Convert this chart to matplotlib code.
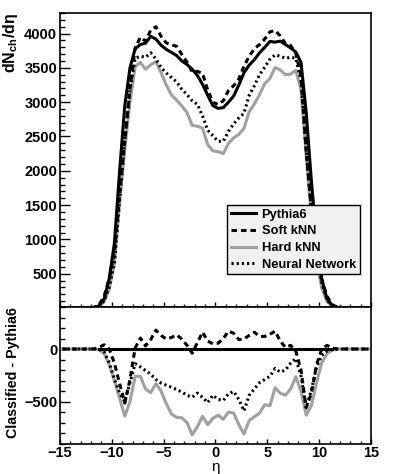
import numpy as np
import matplotlib
matplotlib.use("Agg")
import matplotlib.pyplot as plt
from matplotlib.ticker import MultipleLocator, FixedLocator

plt.rcParams['font.family'] = ['Liberation Sans', 'DejaVu Sans']
plt.rcParams['font.weight'] = 'bold'
plt.rcParams['axes.labelweight'] = 'bold'
plt.rcParams['mathtext.fontset'] = 'custom'
plt.rcParams['mathtext.rm'] = 'Liberation Sans:bold'
plt.rcParams['mathtext.bf'] = 'Liberation Sans:bold'
plt.rcParams['mathtext.default'] = 'bf'

# bin centres (0.5 wide bins from -15 to 15)
eta = [-14.75, -14.25, -13.75, -13.25, -12.75, -12.25, -11.75, -11.25, -10.75, -10.25,
       -9.75, -9.25, -8.75, -8.25, -7.75, -7.25, -6.75, -6.25, -5.75, -5.25,
       -4.75, -4.25, -3.75, -3.25, -2.75, -2.25, -1.75, -1.25, -0.75, -0.25,
       0.25, 0.75, 1.25, 1.75, 2.25, 2.75, 3.25, 3.75, 4.25, 4.75,
       5.25, 5.75, 6.25, 6.75, 7.25, 7.75, 8.25, 8.75, 9.25, 9.75,
       10.25, 10.75, 11.25, 11.75, 12.25, 12.75, 13.25, 13.75, 14.25, 14.75]

# dN/deta from Pythia6
pythia = [0, 0, 0, 0, 0, 2, 8, 30, 130, 430,
          950, 2000, 2950, 3500, 3780, 3840, 3860, 3960, 3920, 3830,
          3770, 3725, 3680, 3600, 3550, 3480, 3390, 3260, 3100, 2950,
          2910, 2920, 3000, 3090, 3250, 3430, 3540, 3620, 3720, 3800,
          3885, 3875, 3890, 3840, 3790, 3730, 3580, 2850, 1850, 1000,
          420, 140, 40, 10, 2, 0, 0, 0, 0, 0]

# classified - Pythia6
diff_soft = [0, 0, 0, 0, 0, 0, 0, 15, 40, 0,
             -135, -330, -515, -290, 10, 105, 30, 90, 180, 130,
             95, 110, 135, 95, 35, -40, 60, 160, 75, 50,
             55, 100, 170, 150, 90, 95, 130, 160, 120, 120,
             140, 170, 75, 15, 35, -20, -200, -560, -420, -150,
             0, 35, 10, 0, 0, 0, 0, 0, 0, 0]
diff_hard = [0, 0, 0, 0, 0, 0, 0, -5, -40, -150,
             -300, -470, -640, -500, -260, -260, -380, -415, -330, -400,
             -520, -620, -650, -655, -700, -818, -740, -640, -720, -660,
             -630, -670, -600, -610, -720, -810, -680, -645, -610, -530,
             -540, -370, -420, -440, -380, -265, -400, -630, -540, -320,
             -130, -45, -12, 0, 0, 0, 0, 0, 0, 0]
diff_nn = [0, 0, 0, 0, 0, 0, 0, -5, -25, -130,
           -290, -420, -500, -320, -140, -170, -205, -240, -290, -325,
           -345, -365, -385, -410, -440, -460, -420, -460, -510, -440,
           -480, -490, -425, -405, -480, -590, -440, -380, -320, -290,
           -260, -185, -220, -200, -135, -90, -260, -560, -390, -170,
           -60, -20, -5, 0, 0, 0, 0, 0, 0, 0]

labels = ['Pythia6', 'Soft kNN', 'Hard kNN', 'Neural Network']

eta = np.array(eta)
pythia = np.array(pythia)
soft = pythia + np.array(diff_soft)
hard = pythia + np.array(diff_hard)
nn = pythia + np.array(diff_nn)

grey = '#a0a0a0'
lw = 2.2
styles = {
    'Pythia6': dict(color='black', lw=lw, ls='-'),
    'Soft kNN': dict(color='black', lw=lw, ls=(0, (1.8, 1.3))),
    'Hard kNN': dict(color=grey, lw=lw, ls='-'),
    'Neural Network': dict(color='black', lw=lw, ls=(0, (0.7, 1.0))),
}

fig = plt.figure(figsize=(3.99, 4.74), dpi=100)
ax1 = fig.add_axes([0.1504, 0.3523, 0.7794, 0.6203])
ax2 = fig.add_axes([0.1504, 0.0643, 0.7794, 0.2880])

# upper panel
lines = {}
for name, y in [('Hard kNN', hard), ('Pythia6', pythia), ('Soft kNN', soft), ('Neural Network', nn)]:
    lines[name], = ax1.plot(eta, y, **styles[name])
ax1.set_xlim(-15, 15)
ax1.set_ylim(15, 4300)
ax1.set_ylabel('dN$_{ch}$/dη', fontsize=11.5, fontweight='bold', loc='top', labelpad=3)

leg = ax1.legend([lines[n] for n in labels], labels, loc='upper left',
                 bbox_to_anchor=(0.536, 0.347), fancybox=False, framealpha=1,
                 facecolor='#f0f0f0', edgecolor='black',
                 prop={'size': 9.3, 'weight': 'bold'},
                 handlelength=2.0, handletextpad=0.4, borderpad=0.3,
                 labelspacing=0.35, borderaxespad=0)
leg.get_frame().set_linewidth(1.0)
leg.set_zorder(5)

# lower panel
zero_mask = pythia >= 20
ax2.plot(eta, diff_hard, **styles['Hard kNN'])
ax2.plot(eta[zero_mask], np.zeros(zero_mask.sum()), **styles['Pythia6'])
ax2.plot(eta, diff_soft, **styles['Soft kNN'])
ax2.plot(eta, diff_nn, **styles['Neural Network'])
ax2.set_xlim(-15, 15)
ax2.set_ylim(-900, 400)
ax2.set_ylabel('Classified - Pythia6', fontsize=10.3, fontweight='bold', loc='top', labelpad=3)
ax2.set_xlabel('η', fontsize=11, fontweight='normal', labelpad=0)

for ax in (ax1, ax2):
    ax.xaxis.set_major_locator(MultipleLocator(5))
    ax.xaxis.set_minor_locator(MultipleLocator(1))
    ax.tick_params(which='both', direction='in', top=False, right=False,
                   labelsize=10.5, width=1.0, pad=2)
    ax.tick_params(axis='y', which='major', length=7.5)
    ax.tick_params(axis='y', which='minor', length=3.8)
    ax.tick_params(axis='x', which='major', length=3.8)
    ax.tick_params(axis='x', which='minor', length=2)
    for s in ax.spines.values():
        s.set_linewidth(1.2)

ax1.yaxis.set_major_locator(FixedLocator([500, 1000, 1500, 2000, 2500, 3000, 3500, 4000]))
ax1.yaxis.set_minor_locator(MultipleLocator(100))
ax1.tick_params(axis='x', labelbottom=False)
ax2.yaxis.set_major_locator(FixedLocator([-500, 0]))
ax2.yaxis.set_minor_locator(MultipleLocator(100))

for ax in (ax1, ax2):
    for t in ax.get_xticklabels() + ax.get_yticklabels():
        t.set_fontweight('bold')

fig.savefig('out.png', dpi=100, facecolor='white')
